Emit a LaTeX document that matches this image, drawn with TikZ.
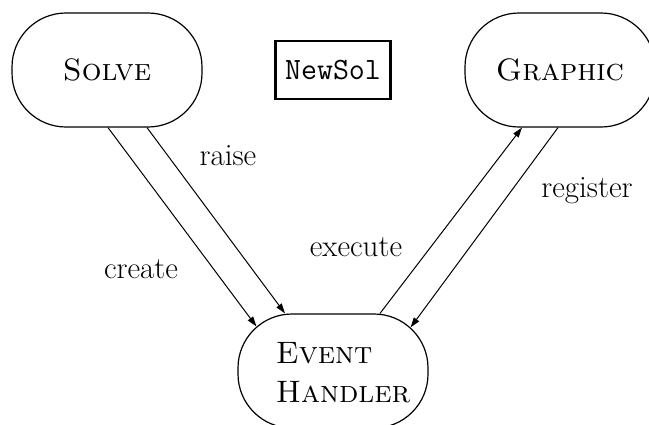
\documentclass[tikz,border=0pt]{standalone}
\usetikzlibrary{arrows.meta}
\begin{document}
\begin{tikzpicture}[x=0.5pt,y=-0.5pt,
  every node/.style={font=\fontsize{15.5}{19.5}\selectfont},
  proc/.style={draw,line width=0.6pt,rounded corners=27pt,minimum width=95pt,minimum height=57pt},
  msg/.style={draw,line width=1.1pt,minimum width=57.5pt,minimum height=29pt,
    font=\fontsize{15.5}{19.5}\selectfont\ttfamily},
  flow/.style={line width=0.5pt,-{Triangle[length=5pt,width=3.2pt]}}]
\useasboundingbox (0,0) rectangle (649,424);
\node[proc] (solve) at (107,70) {\textsc{Solve}};
\node[msg] (newsol) at (333,70) {NewSol};
\node[proc] (graphic) at (560,70) {\textsc{Graphic}};
\node[proc] (handler) at (333,371) {};
\node[align=left] (htext) at (343,373) {\textsc{Event}\\\textsc{Handler}};
\draw[flow] ([shift={(1,0)}]solve.south) -- ([shift={(19,13)}]handler.north west);
\draw[flow] ([shift={(40,0)}]solve.south) -- ([shift={(-48,0)}]handler.north);
\draw[flow] ([shift={(47,0)}]handler.north) -- ([shift={(-38,0)}]graphic.south);
\draw[flow] ([shift={(-2,0)}]graphic.south) -- ([shift={(-18,14)}]handler.north east);
\node[anchor=base] (lraise) at (228,165) {raise};
\node[anchor=base] (lcreate) at (141,278) {create};
\node[anchor=base] (lexecute) at (356,256) {execute};
\node[anchor=base] (lregister) at (587,197) {register};
\end{tikzpicture}
\end{document}
